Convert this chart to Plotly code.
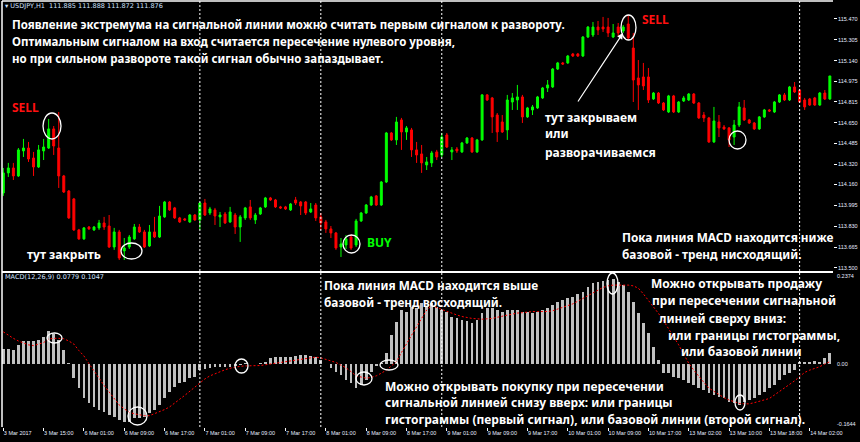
import plotly.graph_objects as go

# ---------------- DATA ----------------
opens = [114.093, 114.252, 114.291, 114.228, 114.426, 114.449, 114.370, 114.299, 114.426, 114.449,
         114.600, 114.449, 114.228, 114.109, 114.046, 113.801, 113.730, 113.824, 113.801, 113.817,
         113.856, 113.832, 113.666, 113.785, 113.635, 113.666, 113.730, 113.824, 113.785, 113.674,
         113.785, 113.745, 113.904, 114.022, 113.975, 113.896, 113.888, 113.864, 113.919, 113.880,
         114.014, 113.935, 113.959, 113.904, 113.927, 113.864, 113.919, 113.824, 113.896, 113.983,
         113.880, 113.927, 113.983, 114.054, 114.038, 113.983, 113.983, 113.959, 114.038, 114.022,
         114.022, 113.943, 113.998, 113.904, 113.864, 113.809, 113.777, 113.666, 113.682, 113.745,
         113.682, 113.872, 113.935, 113.998, 114.070, 113.998, 114.180, 114.568, 114.513, 114.671,
         114.576, 114.592, 114.434, 114.402, 114.315, 114.331, 114.418, 114.394, 114.552, 114.418,
         114.441, 114.418, 114.489, 114.528, 114.418, 114.513, 114.869, 114.845, 114.710, 114.655,
         114.592, 114.813, 114.829, 114.853, 114.695, 114.750, 114.766, 114.845, 114.924, 114.932,
         115.074, 115.122, 115.122, 115.193, 115.193, 115.177, 115.327, 115.343, 115.406, 115.406,
         115.406, 115.327, 115.406, 115.375, 115.430, 115.240, 115.003, 115.011, 115.011, 114.837,
         114.884, 114.805, 114.734, 114.861, 114.734, 114.821, 114.829, 114.876, 114.805, 114.710,
         114.687, 114.497, 114.655, 114.615, 114.608, 114.536, 114.631, 114.766, 114.671, 114.647,
         114.600, 114.695, 114.750, 114.734, 114.813, 114.869, 114.829, 114.932, 114.908, 114.829,
         114.837, 114.845, 114.789, 114.884, 114.837]
highs = [114.291, 114.331, 114.331, 114.449, 114.521, 114.497, 114.418, 114.473, 114.521, 114.679,
         114.623, 114.734, 114.236, 114.117, 114.054, 113.809, 113.824, 113.832, 113.832, 113.880,
         113.904, 113.919, 113.817, 113.801, 113.737, 113.761, 113.848, 113.848, 113.801, 113.840,
         113.904, 113.991, 114.030, 114.030, 113.983, 113.904, 113.896, 113.927, 113.927, 114.022,
         114.046, 113.983, 113.975, 113.943, 113.943, 113.983, 113.935, 113.919, 113.983, 114.038,
         113.935, 113.983, 114.062, 114.062, 114.046, 113.991, 113.991, 114.014, 114.062, 114.030,
         114.030, 114.014, 114.014, 113.935, 113.880, 113.832, 113.785, 113.737, 113.761, 113.761,
         113.888, 113.943, 114.006, 114.070, 114.077, 114.188, 114.576, 114.576, 114.695, 114.687,
         114.623, 114.608, 114.497, 114.473, 114.378, 114.426, 114.434, 114.568, 114.568, 114.457,
         114.457, 114.497, 114.536, 114.536, 114.521, 114.876, 114.876, 114.853, 114.726, 114.710,
         114.869, 114.884, 114.948, 114.869, 114.774, 114.789, 114.861, 114.932, 114.987, 115.082,
         115.130, 115.130, 115.185, 115.201, 115.201, 115.335, 115.414, 115.446, 115.454, 115.486,
         115.478, 115.430, 115.438, 115.422, 115.501, 115.359, 115.145, 115.122, 115.082, 114.892,
         114.892, 114.813, 114.869, 114.869, 114.821, 114.861, 114.884, 114.884, 114.813, 114.734,
         114.695, 114.774, 114.710, 114.631, 114.615, 114.671, 114.813, 114.829, 114.679, 114.655,
         114.702, 114.758, 114.758, 114.821, 114.876, 114.884, 114.940, 114.971, 114.916, 114.845,
         114.845, 114.853, 114.892, 114.908, 115.019]
lows = [114.070, 114.220, 114.196, 114.220, 114.378, 114.339, 114.228, 114.291, 114.354, 114.441,
        114.394, 114.133, 114.093, 113.888, 113.793, 113.722, 113.722, 113.801, 113.793, 113.801,
        113.801, 113.658, 113.643, 113.563, 113.563, 113.650, 113.722, 113.777, 113.658, 113.666,
        113.737, 113.737, 113.896, 113.951, 113.888, 113.856, 113.872, 113.856, 113.872, 113.801,
        113.911, 113.919, 113.840, 113.824, 113.848, 113.856, 113.769, 113.706, 113.880, 113.880,
        113.848, 113.919, 113.975, 114.030, 113.975, 113.967, 113.959, 113.951, 113.998, 113.919,
        113.919, 113.935, 113.872, 113.801, 113.777, 113.737, 113.643, 113.587, 113.650, 113.643,
        113.666, 113.864, 113.927, 113.991, 113.991, 113.991, 114.172, 114.505, 114.473, 114.434,
        114.513, 114.378, 114.331, 114.252, 114.275, 114.299, 114.354, 114.378, 114.449, 114.354,
        114.410, 114.410, 114.481, 114.410, 114.410, 114.505, 114.821, 114.568, 114.497, 114.568,
        114.513, 114.750, 114.750, 114.647, 114.687, 114.710, 114.758, 114.837, 114.892, 114.924,
        115.066, 115.106, 115.114, 115.169, 115.169, 115.169, 115.319, 115.327, 115.343, 115.367,
        115.327, 115.319, 115.335, 115.359, 115.304, 114.813, 114.750, 114.908, 114.805, 114.829,
        114.797, 114.742, 114.726, 114.726, 114.726, 114.813, 114.821, 114.797, 114.679, 114.655,
        114.489, 114.489, 114.536, 114.592, 114.457, 114.473, 114.615, 114.663, 114.639, 114.592,
        114.592, 114.687, 114.734, 114.726, 114.805, 114.821, 114.821, 114.884, 114.805, 114.750,
        114.782, 114.782, 114.782, 114.829, 114.829]
closes = [114.252, 114.291, 114.228, 114.434, 114.449, 114.362, 114.299, 114.434, 114.457, 114.600,
          114.465, 114.228, 114.101, 113.896, 113.801, 113.730, 113.817, 113.809, 113.824, 113.856,
          113.824, 113.666, 113.785, 113.579, 113.658, 113.745, 113.824, 113.785, 113.666, 113.785,
          113.745, 113.911, 114.022, 113.959, 113.896, 113.864, 113.880, 113.919, 113.880, 114.014,
          113.919, 113.967, 113.911, 113.919, 113.856, 113.943, 113.824, 113.904, 113.975, 113.896,
          113.919, 113.975, 114.054, 114.038, 113.983, 113.975, 113.967, 114.006, 114.014, 113.991,
          113.935, 113.967, 113.896, 113.856, 113.809, 113.777, 113.658, 113.690, 113.730, 113.658,
          113.872, 113.935, 113.998, 114.062, 113.998, 114.180, 114.568, 114.513, 114.655, 114.576,
          114.608, 114.434, 114.394, 114.331, 114.339, 114.410, 114.378, 114.536, 114.457, 114.434,
          114.426, 114.489, 114.528, 114.418, 114.513, 114.869, 114.829, 114.695, 114.576, 114.576,
          114.829, 114.845, 114.853, 114.695, 114.766, 114.774, 114.853, 114.924, 114.948, 115.074,
          115.122, 115.114, 115.177, 115.177, 115.177, 115.327, 115.406, 115.406, 115.383, 115.391,
          115.359, 115.359, 115.359, 115.406, 115.319, 114.987, 114.948, 114.940, 114.829, 114.884,
          114.805, 114.750, 114.861, 114.734, 114.813, 114.845, 114.876, 114.805, 114.687, 114.687,
          114.497, 114.663, 114.608, 114.600, 114.513, 114.631, 114.774, 114.671, 114.647, 114.600,
          114.695, 114.750, 114.742, 114.813, 114.869, 114.829, 114.932, 114.892, 114.813, 114.774,
          114.789, 114.789, 114.884, 114.837, 115.019]

macd_hist = [0.039, 0.039, 0.037, 0.050, 0.061, 0.061, 0.060, 0.063, 0.071, 0.086,
             0.078, 0.063, 0.037, 0.002, -0.037, -0.063, -0.089, -0.102, -0.112, -0.120,
             -0.125, -0.133, -0.138, -0.146, -0.151, -0.151, -0.141, -0.141, -0.138, -0.128,
             -0.120, -0.107, -0.089, -0.072, -0.059, -0.050, -0.046, -0.037, -0.033, -0.016,
             -0.012, -0.010, -0.007, -0.007, -0.007, -0.007, -0.005, -0.002, 0.002, 0.001,
             0.001, 0.002, 0.006, 0.015, 0.018, 0.018, 0.018, 0.018, 0.021, 0.023,
             0.023, 0.021, 0.018, 0.010, 0.001, -0.010, -0.020, -0.029, -0.042, -0.050,
             -0.063, -0.055, -0.042, -0.020, -0.006, 0.002, 0.029, 0.076, 0.110, 0.141,
             0.137, 0.150, 0.146, 0.159, 0.150, 0.158, 0.150, 0.141, 0.137, 0.124,
             0.120, 0.115, 0.111, 0.107, 0.115, 0.133, 0.146, 0.146, 0.141, 0.137,
             0.141, 0.141, 0.141, 0.137, 0.137, 0.134, 0.137, 0.141, 0.146, 0.154,
             0.163, 0.167, 0.172, 0.176, 0.183, 0.189, 0.202, 0.211, 0.215, 0.218,
             0.219, 0.221, 0.215, 0.206, 0.189, 0.163, 0.133, 0.107, 0.081, 0.045,
             0.010, -0.024, -0.024, -0.033, -0.037, -0.042, -0.050, -0.055, -0.063, -0.068,
             -0.076, -0.081, -0.085, -0.089, -0.098, -0.102, -0.107, -0.098, -0.094, -0.089,
             -0.081, -0.072, -0.063, -0.055, -0.042, -0.029, -0.024, -0.016, 0.006, 0.006,
             0.006, 0.008, 0.006, 0.016, 0.029]
macd_signal = [0.084, 0.075, 0.067, 0.060, 0.054, 0.050, 0.048, 0.052, 0.056, 0.065,
               0.067, 0.067, 0.066, 0.060, 0.052, 0.035, 0.021, 0.001, -0.019, -0.038,
               -0.056, -0.073, -0.090, -0.107, -0.117, -0.126, -0.130, -0.133, -0.135, -0.135,
               -0.130, -0.126, -0.119, -0.112, -0.103, -0.092, -0.082, -0.071, -0.060, -0.050,
               -0.039, -0.031, -0.025, -0.020, -0.015, -0.011, -0.008, -0.006, -0.005, -0.005,
               -0.005, -0.004, -0.002, 0.000, 0.002, 0.004, 0.006, 0.008, 0.010, 0.012,
               0.015, 0.017, 0.018, 0.016, 0.012, 0.008, 0.004, -0.003, -0.010, -0.020,
               -0.031, -0.034, -0.037, -0.035, -0.031, -0.024, -0.016, -0.005, 0.006, 0.030,
               0.054, 0.075, 0.097, 0.119, 0.141, 0.152, 0.147, 0.141, 0.136, 0.132,
               0.128, 0.124, 0.121, 0.119, 0.118, 0.117, 0.118, 0.119, 0.122, 0.125,
               0.128, 0.131, 0.133, 0.134, 0.136, 0.137, 0.137, 0.137, 0.137, 0.139,
               0.143, 0.147, 0.152, 0.157, 0.164, 0.171, 0.179, 0.187, 0.194, 0.200,
               0.204, 0.206, 0.206, 0.206, 0.206, 0.204, 0.198, 0.183, 0.167, 0.150,
               0.132, 0.113, 0.093, 0.072, 0.050, 0.026, 0.002, -0.016, -0.033, -0.048,
               -0.063, -0.072, -0.081, -0.088, -0.094, -0.099, -0.103, -0.104, -0.104, -0.101,
               -0.098, -0.094, -0.090, -0.081, -0.072, -0.064, -0.055, -0.044, -0.033, -0.022,
               -0.016, -0.012, -0.007, 0.000, 0.006]

time_tick_idx = [0, 8, 16, 24, 32, 40, 48, 56, 64, 72, 80, 88, 96, 104, 112, 120, 128, 136, 144, 152, 160]
time_tick_labels = ["3 Mar 2017", "3 Mar 15:00", "6 Mar 01:00", "6 Mar 09:00", "6 Mar 17:00",
                    "7 Mar 01:00", "7 Mar 09:00", "7 Mar 17:00", "8 Mar 01:00", "8 Mar 09:00",
                    "8 Mar 17:00", "9 Mar 01:00", "9 Mar 09:00", "9 Mar 17:00", "10 Mar 01:00",
                    "10 Mar 09:00", "10 Mar 17:00", "13 Mar 02:00", "13 Mar 10:00", "13 Mar 18:00",
                    "14 Mar 02:00"]
price_ticks = ["115.470", "115.305", "115.140", "114.975", "114.815", "114.650", "114.485",
               "114.320", "114.160", "113.995", "113.830", "113.665", "113.500"]
day_separators = [39, 63, 87, 158]
macd_labels = [("0.2374", 0.2374), ("0.00", 0.0), ("-0.1644", -0.1644)]

n = len(closes)
assert len(opens) == n and len(highs) == n and len(lows) == n
assert len(macd_hist) == n and len(macd_signal) == n
idx = list(range(n))

# ---------------- FIGURE ----------------
W, H = 860, 442
ML, MR, MT, MB = 2, 27, 1, 15
PW, PH = W - ML - MR, H - MT - MB


def P(px, py):
    return (px - ML) / PW, (H - MB - py) / PH


fig = go.Figure()
fig.add_trace(go.Candlestick(
    x=idx, open=opens, high=highs, low=lows, close=closes,
    increasing=dict(line=dict(color="#00ff00", width=1), fillcolor="#00ff00"),
    decreasing=dict(line=dict(color="#ff0000", width=1), fillcolor="#ff0000"),
    whiskerwidth=0, xaxis="x", yaxis="y", hoverinfo="skip", showlegend=False))
fig.add_trace(go.Bar(x=idx, y=macd_hist, width=0.55, marker=dict(color="#c0c0c0", line=dict(width=0)),
                     xaxis="x2", yaxis="y2", showlegend=False, hoverinfo="skip"))
fig.add_trace(go.Scatter(x=idx, y=macd_signal, mode="lines",
                         line=dict(color="#ff0000", width=1, dash="2px,2px"),
                         xaxis="x2", yaxis="y2", showlegend=False, hoverinfo="skip"))

xr = [(ML - 3.3) / 5.04, (W - MR - 3.3) / 5.04]
main_bottom = P(0, 271)[1]
macd_top = P(0, 273)[1]
tickfont = dict(family="Liberation Sans", size=5.5, color="#e4ecff")

fig.update_layout(
    width=W, height=H, margin=dict(l=ML, r=MR, t=MT, b=MB, autoexpand=False),
    paper_bgcolor="black", plot_bgcolor="black", boxgap=0.45,
    xaxis=dict(domain=[0, 1], range=xr, anchor="y", showticklabels=False, showgrid=False,
               zeroline=False, showline=False, rangeslider=dict(visible=False), fixedrange=True),
    yaxis=dict(domain=[main_bottom, 1], range=[113.476, 115.612], side="right", anchor="x",
               tickvals=[float(t) for t in price_ticks], ticktext=price_ticks,
               ticks="outside", ticklen=3, tickcolor="white", tickfont=tickfont,
               showgrid=False, zeroline=False, showline=False),
    xaxis2=dict(domain=[0, 1], range=xr, anchor="y2", tickvals=time_tick_idx, ticktext=time_tick_labels,
                ticks="outside", ticklen=3, tickcolor="white", tickfont=tickfont, tickangle=0,
                ticklabelposition="outside right", showgrid=False, zeroline=False, showline=False),
    yaxis2=dict(domain=[0, macd_top], range=[-0.1645, 0.2376], anchor="x2", showticklabels=False,
                showgrid=False, zeroline=False, showline=False),
    bargap=0,
)

shapes = []
# frame lines
shapes.append(dict(type="line", xref="paper", yref="paper", x0=0, x1=1, y0=1, y1=1,
                   line=dict(color="white", width=1.5)))
shapes.append(dict(type="line", xref="paper", yref="paper", x0=0, x1=0, y0=0, y1=1,
                   line=dict(color="white", width=1.5)))
sep_y = P(0, 272)[1]
shapes.append(dict(type="line", xref="paper", yref="paper", x0=0, x1=1, y0=sep_y, y1=sep_y,
                   line=dict(color="white", width=2)))
for d in day_separators:
    shapes.append(dict(type="line", xref="x", yref="paper", x0=d, x1=d, y0=0, y1=1,
                       line=dict(color="white", width=1, dash="2px,2px")))
# ellipses (pixel boxes)
ellipses = [(43, 113, 61, 139), (121, 243, 142, 259), (343, 235, 360, 253), (621, 15, 636, 40),
            (729, 131, 746, 149),
            (47, 333, 62, 343), (128, 407, 147, 425), (235, 359, 248, 373), (356, 372, 372, 385),
            (380, 360, 398, 370), (607, 273, 618, 294), (735, 395, 745, 410)]
for (a, b, c, d) in ellipses:
    x0, y1 = P(a, b)
    x1, y0 = P(c, d)
    shapes.append(dict(type="circle", xref="paper", yref="paper", x0=x0, x1=x1, y0=y0, y1=y1,
                       line=dict(color="white", width=1.3)))
fig.update_layout(shapes=shapes)

ann = []
topfont = dict(family="Noto Sans", size=11.5, color="white", weight="bold")
bigfont = dict(family="Noto Sans", size=12, color="white", weight="bold")
trendfont = dict(family="Noto Sans", size=11.8, color="white", weight="bold")


def text(s, px, py, font=bigfont, anchor="left"):
    x, y = P(px, py)
    ann.append(dict(text=s, x=x, y=y, xref="paper", yref="paper", xanchor=anchor, yanchor="middle",
                    showarrow=False, font=font, borderpad=0))


small = dict(family="DejaVu Sans", size=6.5, color="#cfe0ff")
text("▾ USDJPY,H1  111.885 111.888 111.872 111.876", 4, 6, small)
text("MACD(12,26,9) 0.0779 0.1047", 4, 277, small)

text("Появление экстремума на сигнальной линии можно считать первым сигналом к развороту.", 11, 24, topfont)
text("Оптимальным сигналом на вход считается пересечение нулевого уровня,", 11, 42, topfont)
text("но при сильном развороте такой сигнал обычно запаздывает.", 11, 59, topfont)

redfont = dict(family="Noto Sans", size=12, color="#ff1010", weight="bold")
greenfont = dict(family="Noto Sans", size=12, color="#00ff00", weight="bold")
text("SELL", 11, 107, redfont)
text("SELL", 641, 20, redfont)
text("BUY", 366, 242, greenfont)
text("тут закрыть", 26, 255)
text("тут закрываем", 544, 117)
text("или", 544, 134)
text("разворачиваемся", 544, 152)
text("Пока линия MACD находится ниже", 621, 237, trendfont)
text("базовой - тренд нисходящий.", 621, 254, trendfont)

text("Пока линия MACD находится выше", 323, 285, trendfont)
text("базовой - тренд восходящий.", 323, 302, trendfont)
text("Можно открывать продажу", 650, 283)
text("при пересечении сигнальной", 651, 300)
text("линией сверху вниз:", 658, 318)
text("или границы гистограммы,", 667, 335)
text("или базовой линии", 680, 351)
text("Можно открывать покупку при пересечении", 384, 386)
text("сигнальной линией снизу вверх: или границы", 384, 402)
text("гистограммы (первый сигнал), или базовой линии (второй сигнал).", 384, 419)

for lab, v in macd_labels:
    ann.append(dict(text=lab, x=1, y=v, xref="paper", yref="y2", xanchor="left", yanchor="middle",
                    xshift=3, yshift=(-3 if v > 0.2 else (3 if v < -0.1 else 0)),
                    showarrow=False, font=tickfont, borderpad=0))

hx, hy = P(623, 33)
ann.append(dict(x=hx, y=hy, xref="paper", yref="paper", ax=-46, ay=70, text="", showarrow=True,
                arrowhead=2, arrowsize=1, arrowwidth=1.2, arrowcolor="white"))
fig.update_layout(annotations=ann)

fig.write_html("out.html", config={"displayModeBar": False, "staticPlot": True},
               post_script="document.body.style.margin='0';document.body.style.background='black';")
